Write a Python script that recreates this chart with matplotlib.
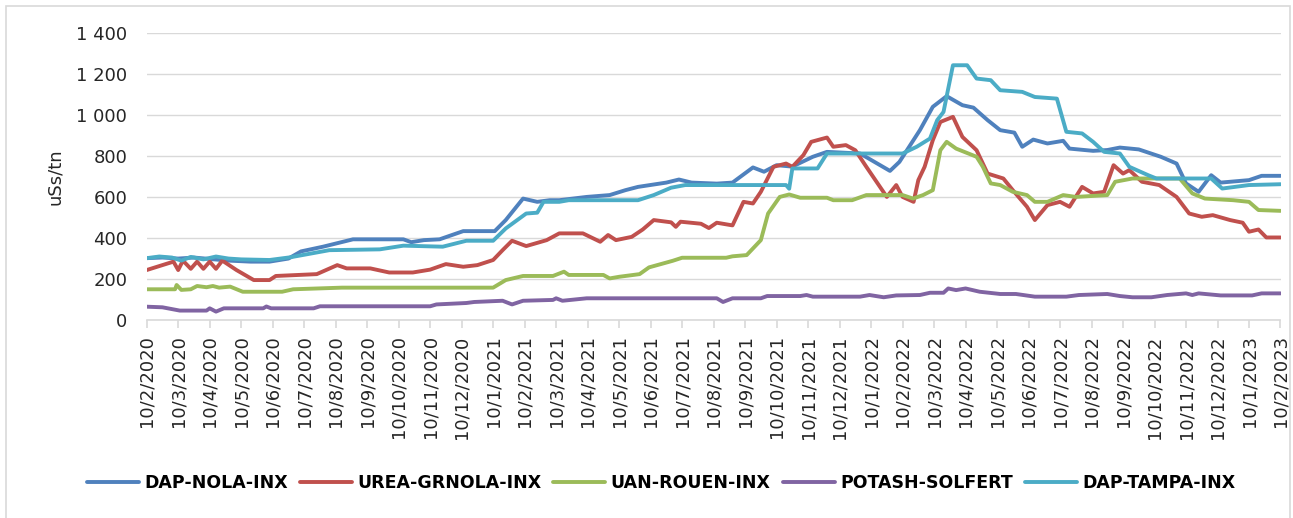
import matplotlib
matplotlib.use("Agg")
import matplotlib.pyplot as plt
from matplotlib.ticker import FuncFormatter, MultipleLocator
from matplotlib.patches import Rectangle

# x = months after 10/2/2020, y = uSs/tn
tick_labels = ([f"10/{m}/2020" for m in range(2, 13)]
               + [f"10/{m}/2021" for m in range(1, 13)]
               + [f"10/{m}/2022" for m in range(1, 13)]
               + ["10/1/2023", "10/2/2023"])

nola_x = [0, 0.5, 1, 1.5, 2, 2.6, 3.3, 3.9, 4.5, 4.9, 5.6, 6.55, 8.15, 8.4, 8.8, 9.3,
          10.05, 11.05, 11.4, 11.95, 12.4, 12.8, 13.1, 13.97, 14.7, 15.2, 15.6, 16.5,
          16.9, 17.3, 18.1, 18.6, 19.25, 19.6, 20.0, 20.5, 21.15, 21.6, 22.65, 23.6,
          23.9, 24.55, 24.96, 25.4, 25.9, 26.25, 26.7, 27.1, 27.55, 27.8, 28.15, 28.6,
          29.1, 29.3, 30.05, 30.5, 30.9, 31.5, 32.2, 32.7, 33.0, 33.4, 33.8, 34.1, 35.0,
          35.4, 36.0]
nola_y = [302, 305, 300, 305, 298, 290, 285, 285, 300, 335, 358, 394, 394, 380, 390, 394,
          434, 434, 488, 593, 577, 585, 585, 601, 610, 634, 650, 671,
          686, 671, 666, 671, 745, 724, 756, 749, 797, 821, 813, 728,
          772, 927, 1041, 1093, 1049, 1037, 976, 927, 915, 846, 881, 862,
          875, 837, 826, 830, 842, 833, 797, 764, 667, 626, 707, 671, 683,
          704, 704]

urea_x = [0, 0.85, 1.0, 1.15, 1.4, 1.6, 1.8, 2.0, 2.2, 2.4, 2.85, 3.4, 3.9, 4.1, 5.4,
          6.05, 6.35, 7.1, 7.7, 8.45, 9.0, 9.5, 10.05, 10.5, 11.0, 11.3, 11.6, 12.05,
          12.7, 13.1, 13.85, 14.4, 14.65, 14.9, 15.4, 15.75, 16.1, 16.65, 16.8, 16.95,
          17.6, 17.85, 18.1, 18.6, 18.95, 19.25, 19.5, 19.9, 20.3, 20.5, 20.85, 21.1,
          21.6, 21.8, 22.2, 22.5, 22.85, 23.5, 23.8, 24.0, 24.35, 24.5, 24.7, 24.96,
          25.2, 25.6, 25.9, 26.35, 26.7, 27.2, 27.5, 27.95, 28.2, 28.6, 29.0, 29.3,
          29.7, 30.05, 30.4, 30.7, 31.0, 31.2, 31.6, 32.15, 32.7, 33.1, 33.5, 33.85,
          34.4, 34.8, 35.0, 35.3, 35.55, 36.0]
urea_y = [244, 285, 244, 290, 250, 285, 250, 285, 250, 290, 244, 195, 195, 215, 224,
          268, 252, 252, 232, 232, 246, 273, 260, 268, 293, 341, 387, 361,
          390, 423, 423, 382, 415, 390, 406, 442, 488, 477, 455, 480,
          470, 449, 475, 462, 577, 569, 626, 748, 764, 748, 805, 870,
          891, 846, 854, 829, 748, 601, 659, 601, 577, 683, 748, 878,
          967, 992, 894, 829, 715, 691, 634, 553, 488, 561, 577, 553,
          650, 618, 626, 756, 715, 732, 675, 659, 601, 520, 504, 512,
          488, 475, 431, 442, 403, 403]

uan_x = [0, 0.9, 0.95, 1.1, 1.4, 1.6, 1.9, 2.1, 2.3, 2.65, 3.05, 4.3, 4.65, 6.2, 11.0,
         11.4, 11.95, 12.9, 13.25, 13.4, 14.5, 14.7, 15.0, 15.65, 15.95, 16.7, 17.0,
         18.4, 18.6, 19.05, 19.5, 19.73, 20.1, 20.4, 20.75, 21.6, 21.8, 22.4, 22.85,
         24.0, 24.33, 24.65, 24.96, 25.2, 25.4, 25.7, 26.35, 26.55, 26.8, 27.1, 27.5,
         27.95, 28.2, 28.6, 29.1, 29.5, 30.5, 30.75, 31.3, 32.8, 33.2, 33.6, 34.5,
         35.0, 35.3, 36.0]
uan_y = [150, 150, 171, 147, 150, 166, 160, 166, 158, 163, 138, 138, 150, 158, 158,
         195, 215, 215, 236, 220, 220, 203, 211, 224, 257, 289, 304,
         304, 311, 317, 390, 520, 601, 613, 597, 597, 585, 585, 610,
         610, 593, 610, 634, 829, 870, 837, 797, 748, 667, 659, 626,
         610, 577, 577, 610, 601, 610, 675, 691, 691, 618, 593, 585,
         577, 537, 533]

potash_x = [0, 0.5, 1.05, 1.9, 2.0, 2.2, 2.45, 3.7, 3.8, 3.95, 5.3, 5.5, 9.0, 9.2,
            10.15, 10.4, 11.3, 11.6, 11.95, 12.9, 13.0, 13.2, 13.97, 18.1, 18.3, 18.6,
            19.5, 19.7, 20.75, 20.95, 21.15, 22.65, 22.95, 23.4, 23.8, 24.55, 24.87,
            25.3, 25.45, 25.7, 26.0, 26.45, 27.1, 27.6, 28.2, 29.2, 29.6, 30.5, 30.9,
            31.3, 31.9, 32.4, 33.0, 33.2, 33.4, 34.1, 35.1, 35.4, 36.0]
potash_y = [65, 62, 46, 46, 57, 41, 57, 57, 66, 57, 57, 67, 67, 76,
            83, 88, 94, 76, 94, 98, 106, 94, 106, 106, 88, 106,
            106, 117, 117, 122, 114, 114, 122, 111, 120, 122, 133,
            133, 154, 146, 154, 138, 127, 127, 114, 114, 122, 127, 117,
            111, 111, 122, 130, 122, 130, 120, 120, 130, 130]

tampa_x = [0, 0.4, 0.8, 1.1, 1.4, 1.8, 2.2, 2.6, 3.0, 3.9, 4.55, 5.8, 7.4, 8.15, 9.4,
           10.15, 11.0, 11.4, 12.05, 12.4, 12.6, 13.1, 13.4, 15.6, 16.1, 16.65, 17.1,
           20.3, 20.4, 20.5, 21.3, 21.6, 24.0, 24.45, 24.87, 25.1, 25.3, 25.6, 26.05,
           26.35, 26.8, 27.1, 27.8, 28.2, 28.9, 29.2, 29.7, 30.05, 30.4, 30.9, 31.2,
           31.8, 32.06, 33.8, 34.15, 35.0, 36.0]
tampa_y = [302, 310, 305, 290, 308, 296, 310, 300, 296, 293, 306, 341, 345, 363, 358,
           387, 387, 447, 520, 524, 577, 577, 585, 585, 610, 646, 659,
           659, 641, 740, 740, 813, 813, 846, 886, 976, 1016, 1244, 1244,
           1179, 1171, 1122, 1114, 1089, 1081, 919, 911, 870, 821, 813, 748,
           707, 691, 691, 642, 659, 663]

series = [
    ("DAP-NOLA-INX", nola_x, nola_y, "#4F81BD"),
    ("UREA-GRNOLA-INX", urea_x, urea_y, "#C0504D"),
    ("UAN-ROUEN-INX", uan_x, uan_y, "#9BBB59"),
    ("POTASH-SOLFERT", potash_x, potash_y, "#8064A2"),
    ("DAP-TAMPA-INX", tampa_x, tampa_y, "#4BACC6"),
]

W, H = 1293, 518
fig = plt.figure(figsize=(W / 100, H / 100), dpi=100)
ax = fig.add_axes([146.7 / W, 1 - 320 / H, (1280.5 - 146.7) / W, (320 - 33.3) / H])

for name, xs, ys, c in series:
    ax.plot(xs, ys, color=c, lw=2.8, label=name, solid_joinstyle="round", solid_capstyle="round")

ax.set_xlim(0, 36)
ax.set_ylim(0, 1400)
ax.yaxis.set_major_locator(MultipleLocator(200))
ax.yaxis.set_major_formatter(FuncFormatter(lambda v, p: f"{int(v):,}".replace(",", " ")))
ax.grid(axis="y", color="#D9D9D9", lw=1)
ax.set_axisbelow(True)
for s in ["top", "right", "left"]:
    ax.spines[s].set_visible(False)
ax.spines["bottom"].set_color("#D9D9D9")
ax.spines["bottom"].set_linewidth(1.2)

ax.set_xticks(range(len(tick_labels)))
ax.set_xticklabels(tick_labels, rotation=90, fontsize=13, color="#262626")
ax.tick_params(axis="x", length=6, color="#D9D9D9", width=1.2, pad=5)
ax.tick_params(axis="y", length=0, pad=14, labelsize=13, labelcolor="#262626")
ax.set_ylabel("uSs/tn", fontsize=13, color="#262626", labelpad=9)

fig.legend(loc="center", bbox_to_anchor=(661 / W, 1 - 483 / H), ncol=5, frameon=False,
           prop={"weight": "bold", "size": 12.5}, handlelength=3.0,
           handletextpad=0.3, columnspacing=0.7)

fig.patches.append(Rectangle((6 / W, -0.05), (W - 9) / W, 1 - 6 / H + 0.05,
                             transform=fig.transFigure, fill=False,
                             edgecolor="#D9D9D9", lw=1.2))

fig.savefig("out.png", dpi=100)
